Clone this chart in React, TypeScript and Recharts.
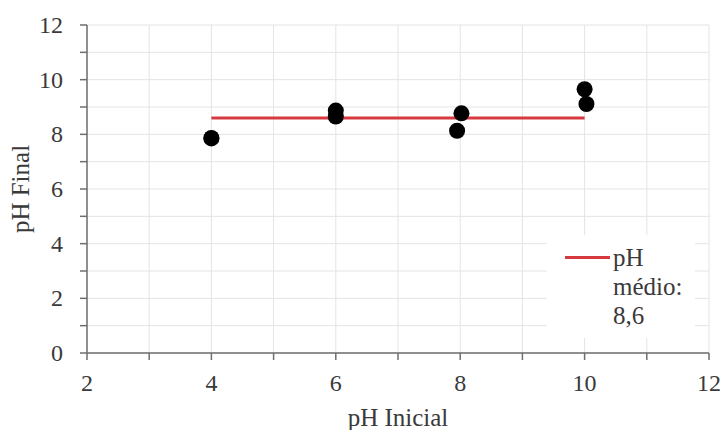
import React from 'react';
import { ScatterChart, Scatter, XAxis, YAxis, CartesianGrid, Legend } from 'recharts';

const phInicial = [4, 4, 6, 6, 7.95, 8.02, 10, 10.03];
const phFinal = [7.87, 7.85, 8.87, 8.65, 8.13, 8.77, 9.65, 9.11];
const meanX = [4, 10];
const meanY = [8.6, 8.6];
const xTicks = [2, 3, 4, 5, 6, 7, 8, 9, 10, 11, 12];
const yTicks = [0, 1, 2, 3, 4, 5, 6, 7, 8, 9, 10, 11, 12];
const legendLines = ['pH', 'médio:', '8,6'];

const points = phInicial.map((x, i) => ({ x, y: phFinal[i] }));
const meanLine = meanX.map((x, i) => ({ x, y: meanY[i] }));

const FONT = "'Liberation Serif', 'Times New Roman', Times, serif";
const RED = '#d63a40';
const TEXT = '#3a3a3a';
const PLOT_LEFT = 87;
const PLOT_BOTTOM = 353;

const XTick = (props: any) => {
  const { x, payload } = props;
  const v = payload.value;
  if (v % 2 !== 0) return <g />;
  return (
    <text x={x} y={PLOT_BOTTOM + 38} textAnchor="end" fill={TEXT} style={{ fontSize: 24, fontFamily: FONT, textAnchor: 'middle' }}>
      {String(v)}
    </text>
  );
};

const YTick = (props: any) => {
  const { y, payload } = props;
  const v = payload.value;
  if (v % 2 !== 0) return <g />;
  return (
    <text x={PLOT_LEFT - 24} y={y + 8} fill={TEXT} style={{ fontSize: 24, fontFamily: FONT, textAnchor: 'end' }}>
      {String(v)}
    </text>
  );
};

const Dot = (props: any) => {
  const { cx, cy } = props;
  return <circle cx={cx} cy={cy} r={8} fill="#000" />;
};

const NoShape = () => <g />;

const LegendBox = () => (
  <div
    style={{
      background: '#fff',
      width: 148,
      height: 103,
      position: 'relative',
      fontFamily: FONT,
      fontSize: 25,
      color: TEXT,
      lineHeight: '29px',
    }}
  >
    <div style={{ position: 'absolute', left: 18, top: 21, width: 45, height: 3, background: RED }} />
    <div style={{ position: 'absolute', left: 66, top: 8 }}>
      {legendLines.map((t) => (
        <div key={t}>{t}</div>
      ))}
    </div>
  </div>
);

export default function App() {
  return (
    <div style={{ position: 'absolute', left: 0, top: 0, fontFamily: FONT }}>
      <ScatterChart width={722} height={430} margin={{ top: 25, right: 13, bottom: 0, left: 0 }} style={{ fontFamily: FONT }}>
        <CartesianGrid stroke="#e4e4e4" strokeWidth={1} />
        <XAxis
          type="number"
          dataKey="x"
          domain={[2, 12]}
          ticks={xTicks}
          interval={0}
          height={77}
          stroke="#6e6e6e"
          strokeWidth={1.5}
          tickSize={7}
          tick={XTick}
          label={{ value: 'pH Inicial', position: 'insideBottom', offset: 4, fill: TEXT, style: { fontSize: 25, fontFamily: FONT } }}
        />
        <YAxis
          type="number"
          dataKey="y"
          domain={[0, 12]}
          ticks={yTicks}
          interval={0}
          width={PLOT_LEFT}
          stroke="#6e6e6e"
          strokeWidth={1.5}
          tickSize={7}
          tick={YTick}
          label={{ value: 'pH Final', angle: -90, position: 'insideLeft', offset: 20, fill: TEXT, style: { textAnchor: 'middle', fontSize: 25, fontFamily: FONT } }}
        />
        <Scatter
          data={meanLine}
          line={{ stroke: RED, strokeWidth: 3 }}
          shape={NoShape}
          isAnimationActive={false}
          legendType="line"
        />
        <Scatter data={points} shape={Dot} isAnimationActive={false} legendType="none" />
        <Legend
          layout="vertical"
          align="center"
          verticalAlign="middle"
          content={() => <LegendBox />}
          wrapperStyle={{ position: 'absolute', left: 547, top: 235, width: 148, height: 103 }}
        />
      </ScatterChart>
    </div>
  );
}
